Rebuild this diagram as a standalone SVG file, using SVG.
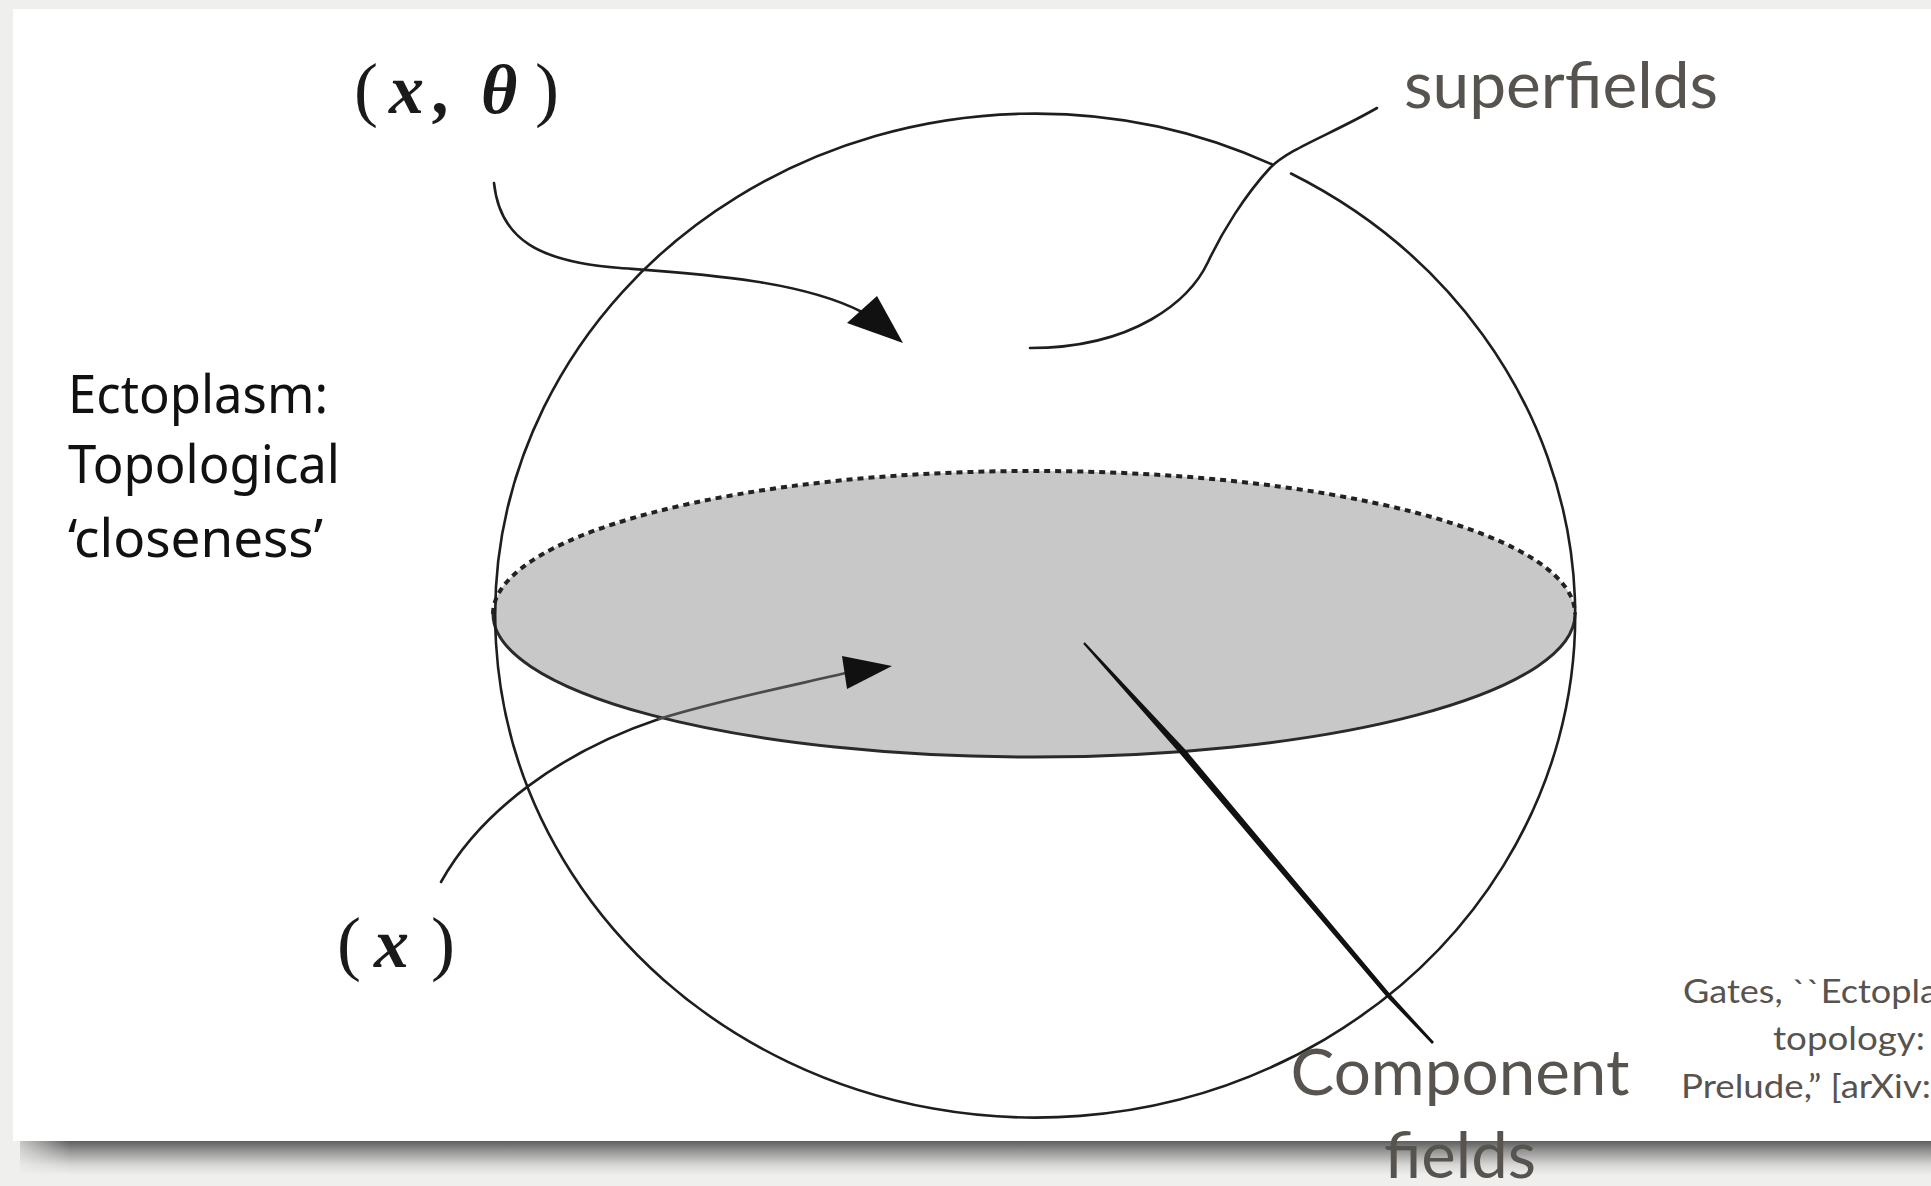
<svg xmlns="http://www.w3.org/2000/svg" width="1931" height="1186" viewBox="0 0 1931 1186">
<defs>
<style>
.lbl{font-family:Lato,"Open Sans","Liberation Sans",sans-serif;fill:#57534f}
.blk{font-family:"Noto Sans","Open Sans","Liberation Sans",sans-serif;fill:#111;font-size:52px}
.math{font-family:"Liberation Serif","DejaVu Serif",serif;fill:#1a1a1a}
.mi{font-weight:bold;font-style:italic}
.ln{fill:none;stroke:#1e1e1e;stroke-width:2.6;stroke-linecap:round}
.head{fill:#111}
</style>
<linearGradient id="sh" x1="0" y1="0" x2="0" y2="1">
<stop offset="0" stop-color="#5e5e5e"/>
<stop offset="0.3" stop-color="#959595"/>
<stop offset="0.7" stop-color="#d6d6d4"/>
<stop offset="1" stop-color="#efefed"/>
</linearGradient>
<linearGradient id="shx" x1="0" y1="0" x2="1" y2="0">
<stop offset="0" stop-color="#000"/>
<stop offset="1" stop-color="#fff"/>
</linearGradient>
<mask id="shm" maskUnits="userSpaceOnUse" x="0" y="1130" width="1931" height="56">
<rect x="0" y="1130" width="1931" height="56" fill="#fff"/>
<rect x="0" y="1130" width="70" height="56" fill="url(#shx)"/>
</mask>
</defs>
<rect x="0" y="0" width="1931" height="1186" fill="#efefed"/>
<rect x="20" y="1141" width="1911" height="34" fill="url(#sh)" mask="url(#shm)"/>
<rect x="13" y="9" width="1931" height="1132" fill="#ffffff"/>

<g id="disk">
<ellipse cx="1034" cy="614" rx="541" ry="143" fill="#c8c8c8"/>
<path d="M493,614 A541,143 0 0 1 1575,614" fill="none" stroke="#222" stroke-width="4" stroke-dasharray="6 5"/>
<path d="M493,614 A541,143 0 0 0 1575,614" fill="none" stroke="#2a2a2a" stroke-width="3"/>
</g>

<g id="sphere">
<path d="M1291,173.5 A540,502 0 1 1 1273,164.9" class="ln"/>
</g>

<g id="label-xtheta" class="math">
<text x="354" y="113" font-size="72">(</text>
<text x="389" y="113" font-size="70" class="mi">x</text>
<text x="434" y="113" font-size="70" class="mi">,</text>
<text x="481" y="113" font-size="70" class="mi">θ</text>
<text x="535" y="113" font-size="72">)</text>
</g>

<g id="label-x" class="math">
<text x="337" y="967" font-size="72">(</text>
<text x="374" y="967" font-size="70" class="mi">x</text>
<text x="431" y="967" font-size="72">)</text>
</g>

<g id="label-superfields">
<text class="lbl" x="1404" y="108" font-size="64" textLength="314" lengthAdjust="spacingAndGlyphs">superfields</text>
</g>

<g id="label-ectoplasm" class="blk">
<text x="68" y="413" textLength="260" lengthAdjust="spacingAndGlyphs">Ectoplasm:</text>
<text x="68" y="483" textLength="272" lengthAdjust="spacingAndGlyphs">Topological</text>
<text x="68" y="557" textLength="255" lengthAdjust="spacingAndGlyphs">‘closeness’</text>
</g>

<g id="label-component" class="lbl" font-size="64" text-anchor="middle">
<text x="1460" y="1095" textLength="339" lengthAdjust="spacingAndGlyphs">Component</text>
<text x="1460" y="1178" textLength="152" lengthAdjust="spacingAndGlyphs">fields</text>
</g>

<g id="label-citation" class="lbl" font-size="33">
<text x="1683" y="1003" textLength="255" lengthAdjust="spacingAndGlyphs">Gates, ``Ectopla</text>
<text x="1773" y="1050" textLength="152" lengthAdjust="spacingAndGlyphs">topology:</text>
<text x="1681" y="1098" textLength="250" lengthAdjust="spacingAndGlyphs">Prelude,” [arXiv:</text>
</g>

<g id="connectors">
<path class="ln" d="M494,183 C500,240 540,262 620,268 C700,274 800,280 862,312"/>
<polygon class="head" points="903,343 877,296 847,323"/>
<path class="ln" d="M1377,108 C1330,135 1290,148 1270,168 C1245,195 1222,232 1208,262 C1190,300 1135,348 1030,348"/>
<path class="ln" d="M441,882 C480,812 560,752 659,719"/>
<path d="M659,719 C720,700 790,686 846,673" fill="none" stroke="#4a4a4a" stroke-width="2.8" stroke-linecap="round"/>
<polygon class="head" points="892,666 842,656 847,689"/>
<polygon fill="#111" points="1084.8,642.3 1185.5,749.8 1270.2,851.1 1389.7,993.6 1434,1042.1 1432,1043.9 1386.3,996.4 1265.8,854.9 1180.5,754.2 1083.2,643.7"/>
</g>
</svg>
